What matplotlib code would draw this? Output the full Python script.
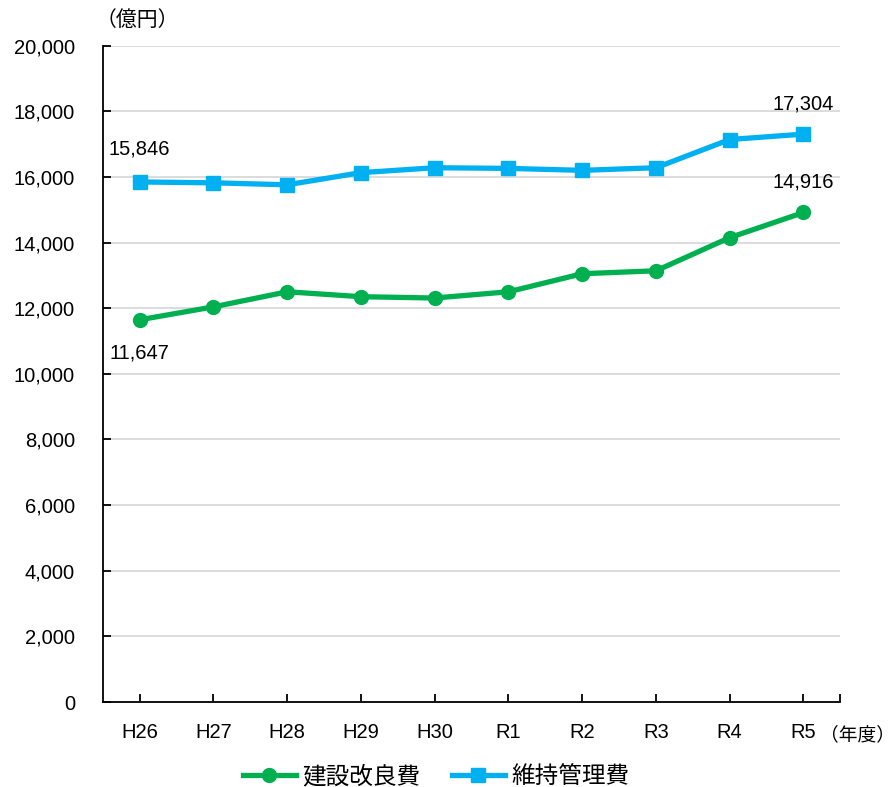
import matplotlib.pyplot as plt
from matplotlib.ticker import FuncFormatter

plt.rcParams['font.family'] = ['Liberation Sans', 'Noto Sans CJK JP', 'DejaVu Sans']

years = ["H26", "H27", "H28", "H29", "H30", "R1", "R2", "R3", "R4", "R5"]
kensetsu = [11647, 12040, 12500, 12350, 12310, 12500, 13050, 13140, 14150, 14916]
iji = [15846, 15820, 15760, 16130, 16280, 16260, 16200, 16280, 17140, 17304]

green = "#00B050"
blue = "#00B0F0"

fig = plt.figure(figsize=(8.94, 7.87), dpi=100)
ax = fig.add_axes([0.115, 0.108, 0.825, 0.834])

x = list(range(len(years)))
ax.plot(x, kensetsu, color=green, lw=3.8, marker="o", ms=10, label="建設改良費", zorder=3)
ax.plot(x, iji, color=blue, lw=3.8, marker="s", ms=10, label="維持管理費", zorder=3)

ax.set_xlim(-0.5, 9.5)
ax.set_ylim(0, 20000)
ax.set_yticks(range(0, 20001, 2000))
ax.yaxis.set_major_formatter(FuncFormatter(lambda v, p: f"{int(v):,}"))
ax.set_xticks(x)
ax.set_xticklabels(years)
ax.set_xticks([9.5], minor=True)

ax.grid(axis="y", color="#d9d9d9", lw=1.3)
ax.set_axisbelow(True)
for s in ["top", "right"]:
    ax.spines[s].set_visible(False)
for s in ["left", "bottom"]:
    ax.spines[s].set_linewidth(1.3)
ax.tick_params(axis="both", which="both", direction="in", length=6, width=1.3, labelsize=14.5)
ax.tick_params(axis="x", pad=15)
ax.tick_params(axis="y", pad=20)

# value labels for the first and last year
lab = dict(textcoords="offset points", ha="center", fontsize=14.5)
ax.annotate(f"{iji[0]:,}", (0, iji[0]), xytext=(0, 17), va="bottom", **lab)
ax.annotate(f"{kensetsu[0]:,}", (0, kensetsu[0]), xytext=(0, -17), va="top", **lab)
ax.annotate(f"{iji[-1]:,}", (9, iji[-1]), xytext=(0, 15), va="bottom", **lab)
ax.annotate(f"{kensetsu[-1]:,}", (9, kensetsu[-1]), xytext=(0, 15), va="bottom", **lab)

cjk = ["Noto Sans CJK JP", "DejaVu Sans"]
fig.text(0.107, 0.975, "（億円）", ha="left", va="center", fontsize=15, family=cjk)
fig.text(0.917, 0.066, "（年度）", ha="left", va="center", fontsize=13.5, family=cjk)

ax.legend(loc="center", bbox_to_anchor=(0.452, -0.114), ncol=2, frameon=False,
          fontsize=17, handlelength=2.25, handletextpad=0.3, columnspacing=1.3)

fig.savefig("out.png", dpi=100)
